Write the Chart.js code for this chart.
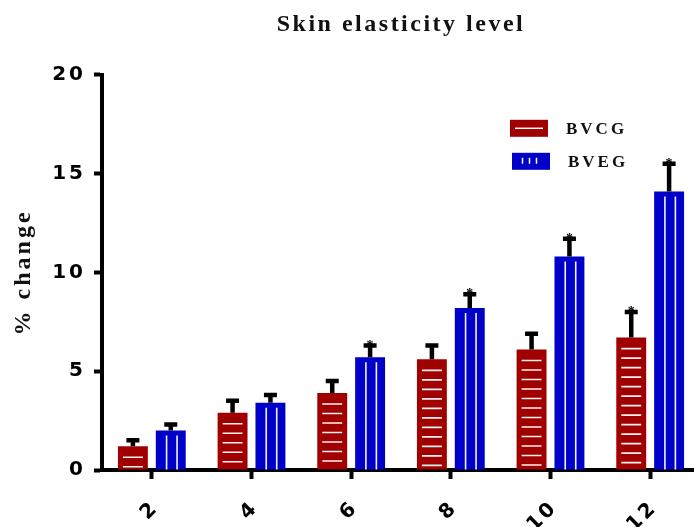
<!DOCTYPE html>
<html>
<head>
<meta charset="utf-8">
<script src="https://cdn.jsdelivr.net/npm/chart.js@4.4.0/dist/chart.umd.min.js"></script>
<style>
  html, body { margin: 0; padding: 0; background: #fff; overflow: hidden; }
  #wrap { width: 720px; height: 560px; }
</style>
</head>
<body>
<div id="wrap"><canvas id="elasticityChart"></canvas></div>
<script>
// weeks
const weeks = ['2', '4', '6', '8', '10', '12'];
const yTicks = [0, 5, 10, 15, 20];

// BVCG
const bvcgMean = [1.2, 2.9, 3.9, 5.6, 6.1, 6.7];
const bvcgErr = [0.3, 0.6, 0.6, 0.7, 0.8, 1.3];
const bvcgSig = [false, false, false, false, false, true];

// BVEG
const bvegMean = [2.0, 3.4, 5.7, 8.2, 10.8, 14.1];
const bvegErr = [0.3, 0.4, 0.6, 0.7, 0.9, 1.4];
const bvegSig = [false, false, true, true, true, true];

// letter spacing like the original figure
const spacing = {
  id: 'spacing',
  beforeDraw(chart) {
    const t = chart.titleBlock;
    if (t && !t._spaced) {
      const draw = t.draw.bind(t);
      t.draw = (area) => {
        chart.ctx.letterSpacing = '2.5px';
        draw(area);
        chart.ctx.letterSpacing = '3px';
      };
      t._spaced = true;
    }
    chart.ctx.letterSpacing = '3px';
  }
};

// hatch lines, error bars and asterisks
const barDecor = {
  id: 'barDecor',
  afterDatasetsDraw(chart) {
    const ctx = chart.ctx;
    const yScale = chart.scales.y;
    ctx.save();
    ctx.letterSpacing = '0px';
    chart.data.datasets.forEach((ds, i) => {
      chart.getDatasetMeta(i).data.forEach((bar, j) => {
        const p = bar.getProps(['x', 'y', 'base', 'width'], true);
        const left = p.x - p.width / 2;

        ctx.strokeStyle = 'rgba(255,255,255,0.95)';
        ctx.lineWidth = 1.6;
        ctx.beginPath();
        if (ds.hatch === 'h') {
          for (let ly = p.y + 11; ly <= p.base - 2; ly += 9.5) {
            ctx.moveTo(left + 5, ly);
            ctx.lineTo(left + p.width - 5, ly);
          }
        } else {
          [0.36, 0.71].forEach(f => {
            ctx.moveTo(left + p.width * f, p.y + 5);
            ctx.lineTo(left + p.width * f, p.base);
          });
        }
        ctx.stroke();

        const top = yScale.getPixelForValue(ds.data[j] + ds.errors[j]);
        ctx.strokeStyle = '#000';
        ctx.lineWidth = 4.5;
        ctx.beginPath();
        ctx.moveTo(p.x, p.y);
        ctx.lineTo(p.x, top);
        ctx.moveTo(p.x - 6.5, top);
        ctx.lineTo(p.x + 6.5, top);
        ctx.stroke();

        if (ds.sig[j]) {
          ctx.fillStyle = '#000';
          ctx.font = 'bold 14px "Liberation Serif"';
          ctx.textAlign = 'center';
          ctx.textBaseline = 'alphabetic';
          ctx.fillText('*', p.x, top + 4);
        }
      });
    });
    ctx.restore();
  }
};

// legend inside the plot, with the same hatch marks
const boxLegend = {
  id: 'boxLegend',
  afterDraw(chart) {
    const { ctx, chartArea } = chart;
    const x0 = chartArea.left + 408;
    const y0 = chartArea.top + 45;
    ctx.save();
    chart.data.datasets.forEach((ds, i) => {
      const bx = x0 + i * 2, by = y0 + i * 33, bw = 38, bh = 17;
      ctx.fillStyle = ds.backgroundColor;
      ctx.fillRect(bx, by, bw, bh);
      ctx.strokeStyle = '#fff';
      ctx.lineWidth = 1.5;
      ctx.beginPath();
      if (ds.hatch === 'h') {
        ctx.moveTo(bx + 5, by + bh / 2);
        ctx.lineTo(bx + bw - 5, by + bh / 2);
      } else {
        [10.5, 17.5, 24.5].forEach(dx => {
          ctx.moveTo(bx + dx, by + 5);
          ctx.lineTo(bx + dx, by + 11);
        });
      }
      ctx.stroke();
      ctx.letterSpacing = '3px';
      ctx.fillStyle = '#111';
      ctx.font = 'bold 17px "Liberation Serif"';
      ctx.textAlign = 'left';
      ctx.textBaseline = 'middle';
      ctx.fillText(ds.label, bx + 56, by + bh / 2 + 1);
    });
    ctx.restore();
  }
};

const tickFont = { family: '"DejaVu Sans"', size: 20, weight: 'bold' };

new Chart(document.getElementById('elasticityChart'), {
  type: 'bar',
  data: {
    labels: weeks,
    datasets: [
      { label: 'BVCG', data: bvcgMean, errors: bvcgErr, sig: bvcgSig, hatch: 'h', backgroundColor: '#A00000' },
      { label: 'BVEG', data: bvegMean, errors: bvegErr, sig: bvegSig, hatch: 'v', backgroundColor: '#0000C8' }
    ]
  },
  options: {
    responsive: true,
    maintainAspectRatio: false,
    animation: false,
    categoryPercentage: 0.76,
    barPercentage: 0.79,
    layout: { padding: { left: 0, right: 20, top: 0, bottom: 0 } },
    plugins: {
      legend: { display: false },
      tooltip: { enabled: false },
      title: {
        display: true,
        fullSize: false,
        text: 'Skin elasticity level',
        color: '#111',
        font: { family: '"Liberation Serif"', size: 24, weight: 'bold' },
        padding: { top: 10, bottom: 36 }
      }
    },
    scales: {
      x: {
        grid: { offset: false, drawOnChartArea: false, tickLength: 9, tickWidth: 4, tickColor: '#000' },
        border: { width: 4, color: '#000' },
        ticks: { color: '#000', font: tickFont, minRotation: 45, maxRotation: 45, padding: 17, labelOffset: 4 },
        afterFit(s) { s.height = 90; }
      },
      y: {
        min: 0,
        max: 20,
        afterBuildTicks(s) { s.ticks = yTicks.map(v => ({ value: v })); },
        grid: { drawOnChartArea: false, tickLength: 8, tickWidth: 4, tickColor: '#000' },
        border: { width: 4, color: '#000' },
        ticks: { color: '#000', font: tickFont, padding: 8 },
        title: {
          display: true,
          text: '% change',
          color: '#111',
          font: { family: '"Liberation Serif"', size: 24, weight: 'bold' },
          padding: { top: 9, bottom: 0 }
        },
        afterFit(s) { s.width = 102; }
      }
    }
  },
  plugins: [spacing, barDecor, boxLegend]
});
</script>
</body>
</html>
